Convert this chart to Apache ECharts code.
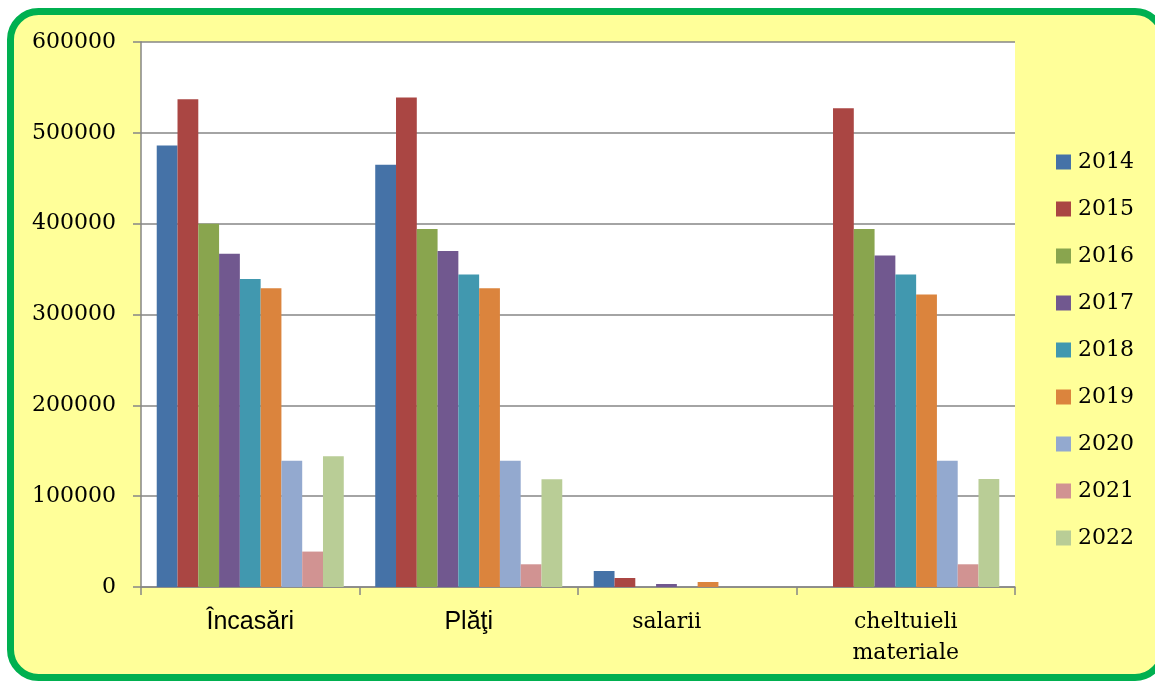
<!DOCTYPE html>
<html>
<head>
<meta charset="utf-8">
<script src="https://cdn.jsdelivr.net/npm/echarts@6/dist/echarts.min.js"></script>
<style>
html,body{margin:0;padding:0;background:#fff;}
#c{width:1155px;height:684px;}
</style>
</head>
<body>
<div id="c"></div>
<script>
const categories = ['Încasări', 'Plăţi', 'salarii', 'cheltuieli\nmateriale'];
const years = ['2014','2015','2016','2017','2018','2019','2020','2021','2022'];
const v2014 = [486000, 465000, 17600, 0];
const v2015 = [537000, 539000, 9900, 527000];
const v2016 = [400000, 394000, 0, 394000];
const v2017 = [367000, 370000, 3300, 365000];
const v2018 = [339000, 344000, 0, 344000];
const v2019 = [329000, 329000, 5500, 322000];
const v2020 = [139000, 139000, 0, 139000];
const v2021 = [39000, 25000, 0, 25000];
const v2022 = [144000, 118500, 0, 119000];
const yTicks = [0, 100000, 200000, 300000, 400000, 500000, 600000];
const colors = ['#4572A7','#AA4643','#89A54E','#71588F','#4198AF','#DB843D','#93A9CF','#D19392','#B9CD96'];
const seriesValues = [v2014, v2015, v2016, v2017, v2018, v2019, v2020, v2021, v2022];

const serif = 'DejaVu Serif';
const sansCats = ['Încasări', 'Plăţi'];
const catData = categories.map(function (c) {
  if (sansCats.indexOf(c) >= 0) {
    return { value: c, textStyle: { fontFamily: 'Liberation Sans', fontSize: 25, lineHeight: 31, color: '#000' } };
  }
  if (c === 'salarii') {
    return { value: c, textStyle: { fontFamily: serif, fontSize: 22, lineHeight: 31, color: '#000', padding: [0, 41, 0, 0] } };
  }
  return { value: c, textStyle: { fontFamily: serif, fontSize: 22, lineHeight: 31, color: '#000' } };
});

const chart = echarts.init(document.getElementById('c'));
chart.setOption({
  animation: false,
  color: colors,
  graphic: [{
    type: 'rect', z: -10, silent: true,
    shape: { x: 10.5, y: 11.5, width: 1152.5, height: 666, r: 28 },
    style: { fill: '#FFFF99', stroke: '#00B050', lineWidth: 7 }
  }],
  grid: {
    left: 141, right: 140, top: 42, bottom: 97,
    show: true, backgroundColor: '#ffffff', borderWidth: 0
  },
  legend: {
    orient: 'vertical', left: 1056, top: 151, padding: 0,
    itemWidth: 15, itemHeight: 15, itemGap: 25,
    icon: 'rect',
    textStyle: { fontFamily: serif, fontSize: 22, color: '#000', lineHeight: 22, padding: [0, 0, 0, 2] },
    data: years
  },
  xAxis: {
    type: 'category',
    data: catData,
    axisLine: { lineStyle: { color: '#868686', width: 1.5 } },
    axisTick: { show: true, length: 8, inside: false, lineStyle: { color: '#868686', width: 1.5 } },
    axisLabel: {
      margin: 20,
      interval: 0,
      fontFamily: serif, fontSize: 22, color: '#000', lineHeight: 31
    }
  },
  yAxis: {
    type: 'value',
    min: yTicks[0], max: yTicks[yTicks.length - 1], interval: yTicks[1] - yTicks[0],
    axisLine: { show: true, lineStyle: { color: '#868686', width: 1.5 } },
    axisTick: { show: true, length: 8, lineStyle: { color: '#868686', width: 1.5 } },
    splitLine: { lineStyle: { color: '#868686', width: 1.5 } },
    axisLabel: { margin: 25, fontFamily: serif, fontSize: 22, color: '#000',
      formatter: function (v) { return String(v); } }
  },
  series: years.map(function (y, i) {
    return {
      name: y, type: 'bar', data: seriesValues[i],
      barGap: '0%', barCategoryGap: '14.4%',
      itemStyle: { color: colors[i] }
    };
  })
});
</script>
</body>
</html>
